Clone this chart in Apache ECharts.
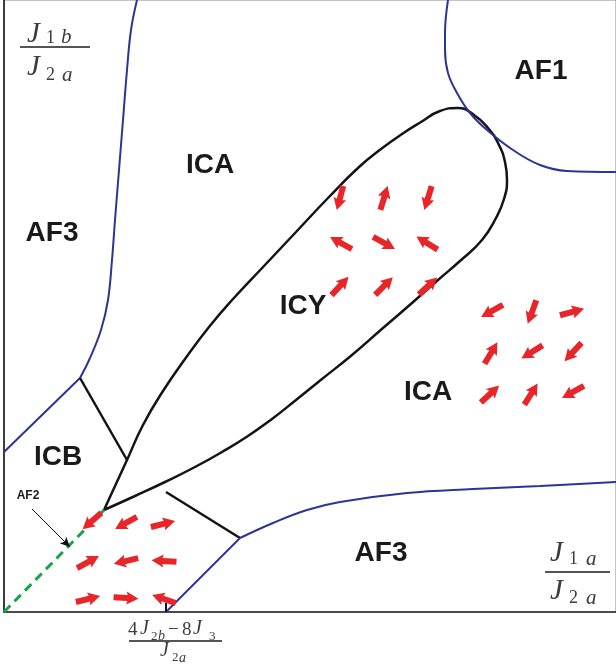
<!DOCTYPE html>
<html>
<head>
<meta charset="utf-8">
<script src="https://cdn.jsdelivr.net/npm/echarts@6/dist/echarts.min.js"></script>
<style>
  html, body { margin: 0; padding: 0; background: #fff; }
  #main { width: 616px; height: 668px; }
</style>
</head>
<body>
<div id="main"></div>
<script>
// phase boundaries, in plot units (0..612 on both axes)
const leftBlueUpper = [[133,612],[127,582],[123,542],[119,492],[115,442],[111,392],[108,352],[104,312],[97,282],[86,254],[76,234]];
const leftBlueLower = [[76,234],[38,197],[0,160]];
const icbLine = [[76,234],[123,152]];
const icyLoop = [[100,102],[123,152],[139,187],[159,221],[181,253],[205,285],[229,313],[260,346],[292,380],[324,414],[355,445],[377,463],[398,478],[417,490],[436,501],[454,504],[470,497],[484,484],[494,469],[501,450],[503,432],[500,413],[492,394],[478,372],[456,351],[434,332],[408,309],[379,284],[348,257],[318,233],[292,212],[268,193],[244,176],[218,160],[191,145],[161,130],[131,116],[100,102]];
const shortBlack = [[162,120],[236,74]];
const bottomBlueA = [[162,0],[236,74]];
const bottomBlueB = [[236,74],[269,89],[303,102],[336,110],[403,119],[469,123],[536,126],[612,130]];
const af1Blue = [[444,612],[441,579],[441,562],[444,539],[453,519],[466,499],[483,482],[509,462],[536,447],[563,441],[612,440]];
const af2Line = [[0,0],[100,102]];
const axisTickMark = [[162,0],[162,9]];

// spin arrows: x, y, direction (degrees, counter-clockwise from +x)
const arrowsICY = [[336,414,255],[380,414,73],[424,414,253],[337,369,151],[380,369,331],[423,369,148],[336,326,47],[380,326,45],[424,326,43]];
const arrowsICA = [[488,301,209],[528,300,250],[568,300,15],[487,259,59],[528,260,212],[569,260,227],[486,218,43],[527,218,58],[569,220,209]];
const arrowsAF2 = [[88,91,221],[122,89,209],[159,88,14],[84,50,29],[122,51,193],[160,51,177],[84,13,14],[122,14,357],[160,13,161]];

// region names
const regionNames = ['ICA','AF3','AF1','ICY','ICA','ICB','AF3'];
const regionPos = [[206,447],[48,379],[537,541],[299,306],[424,220],[54,155],[377,59]];

const BLUE = '#2b3592';
const BLACK = '#141414';
const RED = '#e8262a';
const arrowPath = 'path://M0,3.5 L14,3.5 L13,0 L25,6.5 L13,13 L14,9.5 L0,9.5 Z';

function lineSeries(data, color, width, smooth) {
  return {
    type: 'line', data: data, symbol: 'none', smooth: smooth || false,
    lineStyle: { color: color, width: width }, silent: true, z: 3
  };
}
function arrowSeries(list) {
  return {
    type: 'scatter', symbol: arrowPath, symbolSize: [25, 13],
    itemStyle: { color: RED, opacity: 1 }, silent: true, z: 4,
    data: list.map(a => ({ value: [a[0], a[1]], symbolRotate: a[2] }))
  };
}

// math labels
const MATH = '"Liberation Serif", "DejaVu Serif", serif';
const GREY = '#3c3c3c';
function t(s, x, y, size, italic) {
  return { type: 'text', x: x, y: y, silent: true,
    style: { text: s, font: (italic ? 'italic ' : '') + size + 'px ' + MATH,
      fill: GREY, verticalAlign: 'middle', align: 'left' } };
}
function bar(x1, x2, y) {
  return { type: 'line', silent: true, shape: { x1: x1, y1: y, x2: x2, y2: y },
    style: { stroke: '#555', lineWidth: 2 } };
}

const graphics = [
  // J1b / J2a
  t('J', 27, 34, 29, true), t('1', 46, 38, 18, false), t('b', 61, 37, 21, true),
  bar(20, 90, 47),
  t('J', 27, 67, 29, true), t('2', 46, 75, 18, false), t('a', 62, 75, 21, true),
  // J1a / J2a
  t('J', 550, 553, 29, true), t('1', 569, 559, 18, false), t('a', 586, 559, 21, true),
  bar(545, 610, 572),
  t('J', 550, 591, 29, true), t('2', 569, 598, 18, false), t('a', 586, 598, 21, true),
  // (4J2b - 8J3) / J2a
  t('4', 128, 630, 19, false), t('J', 140, 629, 20, true), t('2', 151, 637, 13, false), t('b', 158, 636, 14, true),
  t('\u2212', 168, 630, 19, false), t('8', 182, 630, 19, false), t('J', 193, 629, 20, true), t('3', 209, 637, 13, false),
  bar(129, 222, 641),
  t('J', 160, 651, 20, true), t('2', 172, 658, 13, false), t('a', 179, 658, 14, true)
];

const chart = echarts.init(document.getElementById('main'));
chart.setOption({
  animation: false,
  grid: { left: 4, top: 0, width: 612, height: 612, show: true, borderColor: '#888', borderWidth: 1 },
  xAxis: {
    type: 'value', min: 0, max: 612,
    axisLine: { show: true, onZero: false, lineStyle: { color: '#222', width: 1.5 } },
    axisTick: { show: false }, axisLabel: { show: false }, splitLine: { show: false }
  },
  yAxis: {
    type: 'value', min: 0, max: 612,
    axisLine: { show: true, onZero: false, lineStyle: { color: '#111', width: 1.5 } },
    axisTick: { show: false }, axisLabel: { show: false }, splitLine: { show: false }
  },
  graphic: graphics,
  series: [
    lineSeries(leftBlueUpper, BLUE, 2, 0.4),
    lineSeries(leftBlueLower, BLUE, 2),
    lineSeries(icbLine, BLACK, 2.5),
    lineSeries(icyLoop, BLACK, 2.5, 0.5),
    lineSeries(shortBlack, BLACK, 2.5),
    lineSeries(bottomBlueA, BLUE, 2),
    lineSeries(bottomBlueB, BLUE, 2, 0.4),
    lineSeries(af1Blue, BLUE, 2, 0.4),
    lineSeries(axisTickMark, BLACK, 2),
    {
      type: 'line', data: af2Line, symbol: 'none', silent: true, z: 3,
      lineStyle: { color: '#19a24a', width: 3, type: [9, 6] }
    },
    arrowSeries(arrowsICY),
    arrowSeries(arrowsICA),
    arrowSeries(arrowsAF2),
    {
      type: 'scatter', symbolSize: 0, silent: true, z: 5,
      itemStyle: { opacity: 1 },
      data: regionNames.map((n, i) => ({ name: n, value: regionPos[i] })),
      label: { show: true, position: 'inside', formatter: '{b}',
        fontFamily: '"Liberation Sans", Arial, sans-serif', fontWeight: 'bold', fontSize: 28, color: '#1a1a1a' }
    },
    {
      // AF2 pointer
      type: 'scatter', symbolSize: 0, silent: true, z: 5,
      itemStyle: { opacity: 1 },
      data: [{ name: 'AF2', value: [24, 116] }],
      label: { show: true, position: 'inside', formatter: '{b}',
        fontFamily: '"Liberation Sans", Arial, sans-serif', fontWeight: 'bold', fontSize: 12, color: '#1a1a1a' },
      markLine: {
        silent: true, symbol: ['none', 'arrow'], symbolSize: [7, 10],
        lineStyle: { color: '#111', width: 1, type: 'solid' }, label: { show: false },
        data: [[{ coord: [28, 103] }, { coord: [66, 65] }]]
      }
    }
  ]
});
</script>
</body>
</html>
